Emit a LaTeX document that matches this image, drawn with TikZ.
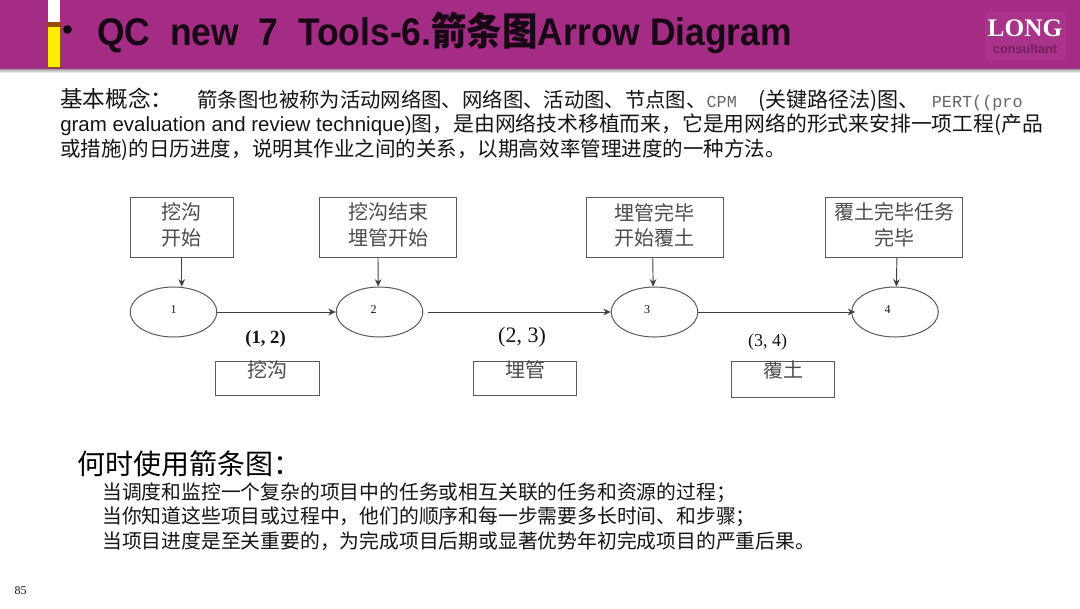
\documentclass[tikz,border=0pt]{standalone}
\usepackage{fontspec}
\setmainfont{Liberation Sans}
\newfontfamily\zh{Noto Sans CJK SC}
\newfontfamily\heading{Liberation Sans}[FakeStretch=0.92]
\newfontfamily\headingzh{Noto Sans CJK SC}[FakeStretch=0.92]
\newfontfamily\tm{Liberation Serif}
\newfontfamily\mono{Liberation Mono}
\usetikzlibrary{arrows.meta,shapes.geometric,positioning}
\definecolor{band}{HTML}{A42C84}
\definecolor{bandlogo}{HTML}{A93388}
\definecolor{ink}{HTML}{151515}
\definecolor{edge}{HTML}{5A5A5A}
\newcommand{\fs}[1]{\fontsize{#1}{#1}\selectfont}

\begin{document}
\begin{tikzpicture}[x=0.75pt,y=-0.75pt,
  topbox/.style={draw=edge, line width=0.75pt, fill=white, minimum height=45pt, inner sep=0pt, align=center, font=\zh\fontsize{15}{19}\selectfont, text=black!70},
  actbox/.style={draw=edge, line width=0.75pt, fill=white, minimum width=77.5pt, inner sep=0pt, font=\zh\fs{15}, text=black!70, text height=12.5pt},
  evt/.style={ellipse, draw=edge, line width=0.75pt, fill=white, minimum width=65pt, minimum height=37.5pt, inner sep=0pt},
  num/.style={font=\tm\fs{9}, text=ink, inner sep=0pt},
  pair/.style={font=\tm, text=ink, inner sep=0pt},
  arc/.style={-{Stealth[length=5.5pt,width=5pt]}, draw=edge!70!black, line width=0.7pt},
  para/.style={anchor=west, inner sep=0pt, font=\fs{15.35}, text=ink},
  usage/.style={anchor=west, inner sep=0pt, font=\zh\fs{14.85}, text=ink}]
  \useasboundingbox (0,0) rectangle (1080,608);
  % header band
  \fill[white] (0,0) rectangle (1080,608);
  \shade[top color=black!45, bottom color=white] (0,68) rectangle (1080,73);
  \fill[band] (0,0) rectangle (1080,68.5);
  \fill[bandlogo] (985,12) rectangle (1066,60);
  \fill[white] (47.5,0) rectangle (60,22);
  \fill[orange!60!black] (46.5,22) rectangle (60.5,68);
  \fill[yellow!95!orange] (47.5,27) rectangle (59.5,67);
  \node[circle, fill=black!90!band, minimum size=6.5pt, inner sep=0pt] (bullet) at (67.5,29.5) {};
  \node[anchor=west, inner sep=0pt, font=\heading\bfseries\fs{28.9}, text=black!85!band] (title) at (97,33) {QC\ \ new\ \ 7\ \ Tools-6.{\headingzh 箭条图}Arrow Diagram};
  \node[inner sep=0pt, font=\tm\bfseries\fs{19}, text=white] (logo) at (1025,28) {LONG};
  \node[inner sep=0pt, font=\bfseries\fs{9.5}, text=black!30!band] (logosub) at (1025,49) {consultant};
  % concept text
  \node[para] (conceptA) at (60,100) {{\zh\fs{17}基本概念：}\hspace{18pt}{\zh\fs{15.27}箭条图也被称为活动网络图、网络图、活动图、节点图、}{\mono\fs{12.6}\color{black!60}CPM}\hspace{16pt}{\zh\fs{15.8}(关键路径法)图、}\hspace{9pt}{\mono\fs{12.6}\color{black!60}PERT((pro}};
  \node[para] (conceptB) at (60,125) {gram evaluation and review technique){\zh\fs{15.6}图，是由网络技术移植而来，它是用网络的形式来安排一项工程(产品}};
  \node[para] (conceptC) at (60,150) {\zh\fs{15.4}或措施)的日历进度，说明其作业之间的关系，以期高效率管理进度的一种方法。};
  % start and end of each step
  \node[topbox, minimum width=77.5pt] (dig) at (181.75,227) {挖沟\\开始\\[-14.5pt]};
  \node[topbox, minimum width=102.5pt] (lay) at (388,227) {挖沟结束\\埋管开始\\[-14.5pt]};
  \node[topbox, minimum width=102.5pt] (cover) at (654.75,227.5) {埋管完毕\\开始覆土\\[-14.5pt]};
  \node[topbox, minimum width=103pt] (done) at (894.25,227) {覆土完毕任务\\完毕\\[-14.5pt]};
  % events
  \node[evt, label={[num,yshift=1.5pt]center:1}] (E1) at (173.5,312) {};
  \node[evt, label={[num,xshift=-4.5pt,yshift=2pt]center:2}] (E2) at (379.5,312) {};
  \node[evt, label={[num,xshift=-5.5pt,yshift=2pt]center:3}] (E3) at (654.5,312) {};
  \node[evt, label={[num,xshift=-5.5pt,yshift=2pt]center:4}] (E4) at (895,312) {};
  \draw[arc] (dig.south) -- (dig.south |- E1.north);
  \draw[arc] ([xshift=-7.5pt]lay.south) -- ([xshift=-1pt]E2.north);
  \draw[arc] ([xshift=-1.5pt]cover.south) -- ([xshift=-1pt]E3.north);
  \draw[arc] ([xshift=2pt]done.south) -- ([xshift=1pt]E4.north);
  \draw[arc] (E1.east) -- (E2.west);
  \draw[arc] ([xshift=3.5pt]E2.east) -- (E3.west);
  \draw[arc] (E3.east) -- ([xshift=3pt]E4.west);
  % activities
  \node[pair, font=\tm\bfseries\fs{14}] (p12) at (265.5,338.5) {(1, 2)};
  \node[pair, font=\tm\fs{16.5}] (p23) at (522,337) {(2, 3)};
  \node[pair, font=\tm\fs{13.5}] (p34) at (767.5,342) {(3, 4)};
  \node[actbox, text depth=13pt] (A1) at (267.5,378) {挖沟};
  \node[actbox, text depth=13pt] (A2) at (525,378.25) {埋管};
  \node[actbox, text depth=15pt] (A3) at (783,379.5) {覆土};
  % when to use
  \node[anchor=west, inner sep=0pt, font=\zh\fs{21}, text=black] (when) at (77,464) {何时使用箭条图：};
  \node[usage] (useA) at (102,493) {当调度和监控一个复杂的项目中的任务或相互关联的任务和资源的过程；};
  \node[usage] (useB) at (102,517) {当你知道这些项目或过程中，他们的顺序和每一步需要多长时间、和步骤；};
  \node[usage] (useC) at (102,541) {当项目进度是至关重要的，为完成项目后期或显著优势年初完成项目的严重后果。};
  \node[inner sep=0pt, font=\tm\fs{9}, text=ink] (page) at (20.5,591) {85};
\end{tikzpicture}
\end{document}
